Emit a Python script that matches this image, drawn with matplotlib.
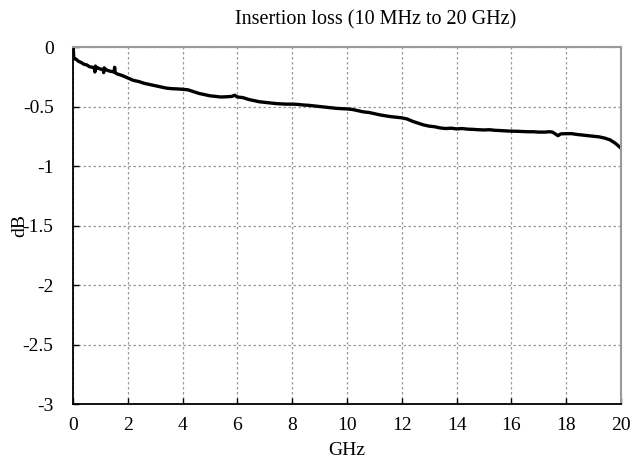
import matplotlib
matplotlib.use("Agg")
import matplotlib.pyplot as plt

freq_ghz = [0.01, 0.03, 0.1, 0.2, 0.3, 0.4, 0.5, 0.6, 0.7, 0.78, 0.8, 0.82, 0.85, 0.9,
            1.0, 1.1, 1.12, 1.14, 1.2, 1.3, 1.4, 1.5, 1.52, 1.54, 1.6, 1.8,
            2.0, 2.2, 2.4, 2.6, 2.8, 3.0, 3.2, 3.4, 3.6, 3.8, 4.0, 4.2, 4.4, 4.6, 4.8,
            5.0, 5.2, 5.4, 5.6, 5.8, 5.9, 6.0, 6.2, 6.4, 6.6, 6.8, 7.0, 7.2, 7.4, 7.6, 7.8,
            8.0, 8.2, 8.4, 8.6, 8.8, 9.0, 9.2, 9.4, 9.6, 9.8, 10.0, 10.2, 10.4, 10.6, 10.8,
            11.0, 11.2, 11.4, 11.6, 11.8, 12.0, 12.2, 12.4, 12.6, 12.8, 13.0, 13.2, 13.4,
            13.6, 13.8, 14.0, 14.2, 14.4, 14.6, 14.8, 15.0, 15.2, 15.4, 15.6, 15.8, 16.0,
            16.2, 16.4, 16.6, 16.8, 17.0, 17.2, 17.4, 17.5, 17.7, 17.8, 18.0, 18.2, 18.4,
            18.6, 18.8, 19.0, 19.2, 19.4, 19.6, 19.8, 19.9, 20.0]
loss_db = [-0.01, -0.10, -0.10, -0.12, -0.13, -0.145, -0.15, -0.165, -0.17, -0.175, -0.21, -0.16, -0.18, -0.175,
           -0.185, -0.19, -0.215, -0.175, -0.19, -0.20, -0.205, -0.21, -0.17, -0.215, -0.225, -0.24,
           -0.26, -0.28, -0.29, -0.305, -0.315, -0.325, -0.335, -0.345, -0.35, -0.352, -0.355, -0.36, -0.375, -0.39, -0.40,
           -0.41, -0.415, -0.42, -0.418, -0.415, -0.405, -0.42, -0.425, -0.44, -0.45, -0.46, -0.465, -0.47, -0.475, -0.478, -0.48,
           -0.48, -0.482, -0.487, -0.49, -0.495, -0.50, -0.505, -0.51, -0.515, -0.518, -0.52, -0.525, -0.535, -0.545, -0.55,
           -0.56, -0.57, -0.578, -0.585, -0.59, -0.595, -0.605, -0.625, -0.64, -0.655, -0.665, -0.67, -0.68,
           -0.685, -0.682, -0.688, -0.685, -0.69, -0.692, -0.695, -0.697, -0.695, -0.70, -0.702, -0.705, -0.707,
           -0.708, -0.71, -0.712, -0.712, -0.715, -0.715, -0.712, -0.715, -0.745, -0.73, -0.728, -0.728, -0.735,
           -0.74, -0.745, -0.75, -0.755, -0.765, -0.78, -0.81, -0.83, -0.85]

x_ticks = [0, 2, 4, 6, 8, 10, 12, 14, 16, 18, 20]
y_ticks = [0, -0.5, -1, -1.5, -2, -2.5, -3]
y_tick_labels = ["0", "-0.5", "-1", "-1.5", "-2", "-2.5", "-3"]

plt.rcParams['font.family'] = ['Liberation Serif', 'DejaVu Serif']

fig = plt.figure(figsize=(6.34, 4.61), dpi=100)
ax = fig.add_axes([0.1151, 0.1236, 0.8644, 0.7744])

ax.plot(freq_ghz, loss_db, color='black', linewidth=2.4)

ax.set_xlim(0, 20)
ax.set_ylim(-3, 0)
ax.set_xticks(x_ticks)
ax.set_yticks(y_ticks)
ax.set_yticklabels(y_tick_labels)
ax.tick_params(direction='in', length=4, labelsize=14, colors='black', width=1)
ax.tick_params(axis='x', pad=9)
ax.tick_params(axis='y', pad=14)

ax.grid(True, color='#999999', linestyle=(0, (2, 2)), linewidth=0.9)
ax.set_axisbelow(True)

for s in ['left', 'bottom']:
    ax.spines[s].set_color('black')
    ax.spines[s].set_linewidth(1.3)
for s in ['top', 'right']:
    ax.spines[s].set_color('#9a9a9a')
    ax.spines[s].set_linewidth(1.5)

fig.text(0.547, 0.023, 'GHz', fontsize=14, ha='center', va='center')
fig.text(0.031, 0.51, 'dB', rotation=90, fontsize=14, ha='center', va='center')
fig.text(0.593, 0.958, 'Insertion loss (10 MHz to 20 GHz)', fontsize=14.5, ha='center', va='center')

fig.savefig('out.png', dpi=100)
